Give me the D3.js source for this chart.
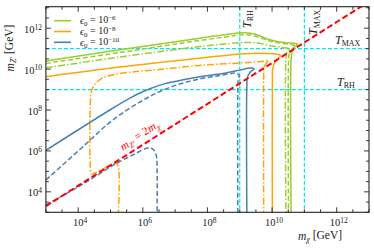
<!DOCTYPE html>
<html><head><meta charset="utf-8">
<script src="https://cdn.jsdelivr.net/npm/d3@7"></script>
<style>
body{margin:0;background:#fff}
text{font-family:"Liberation Serif","DejaVu Serif",serif;fill:#222}
</style>
</head><body>
<svg id="c" width="374" height="249"></svg>
<script>
// ---- data (log10 of mass values, GeV) ----
const xDomainLog = [3, 13];
const yDomainLog = [3, 13.05];
const xLabelExps = [4, 6, 8, 10, 12];
const yLabelExps = [4, 6, 8, 10, 12];
const tempLabels = ["RH", "MAX"];
const tempValuesLog = [9, 11];          // T_RH, T_MAX
const legendExps = ["\u22126", "\u22128", "\u221210"];
const ratioLog = Math.log10(2);         // m_Z' = 2 m_chi

const greenSolid = [[3.00,10.40],[5.29,10.94],[7.76,11.51],[8.69,11.72],[9.06,11.78],[9.46,11.72],[9.86,11.47],[10.23,11.32],[10.60,11.27],[10.79,11.21],[10.69,11.06],[10.62,10.84],[10.59,10.45],[10.59,2.8]];
const greenDashed = [[3.00,10.28],[5.29,10.81],[7.76,11.40],[8.69,11.60],[9.06,11.68],[9.46,11.62],[9.86,11.40],[10.23,11.27],[10.60,11.20],[10.72,11.13],[10.63,10.99],[10.53,10.74],[10.51,10.35],[10.51,2.8]];
const greenDashDot = [[3.00,10.06],[5.29,10.59],[7.76,11.10],[8.69,11.25],[9.06,11.30],[9.55,11.28],[9.98,11.13],[10.32,11.06],[10.54,10.99],[10.46,10.84],[10.43,10.55],[10.43,2.8]];
const orangeSolid = [[3.00,9.63],[5.29,10.10],[7.76,10.53],[9.00,10.74],[9.61,10.78],[10.11,10.74],[10.26,10.67],[10.18,10.50],[10.08,10.30],[10.02,10.01],[10.01,9.57],[10.01,2.8]];
const orangeDashDot = [[5.24,2.8],[5.24,5.26],[5.18,5.39],[4.52,4.92],[4.41,4.87],[4.38,5.07],[4.38,8.49],[4.42,8.98],[4.55,9.32],[4.76,9.57],[5.13,9.74],[5.69,9.86],[6.52,9.98],[7.76,10.18],[9.00,10.30],[9.68,10.37],[9.89,10.40],[9.83,10.30],[9.75,10.10],[9.74,9.71],[9.74,2.8]];
const blueSolid = [[3.00,6.03],[4.98,8.00],[5.60,8.58],[5.91,8.83],[6.22,9.04],[6.68,9.29],[7.30,9.49],[7.91,9.66],[8.53,9.80],[9.00,9.95],[9.31,10.05],[9.44,10.01],[9.33,9.86],[9.24,9.62],[9.22,9.22],[9.22,2.8]];
const blueDashedUpper = [[3.00,4.58],[4.05,6.07],[5.07,7.51],[5.91,8.39],[6.52,8.90],[7.14,9.27],[7.76,9.52],[8.38,9.69],[8.75,9.79],[8.87,9.81],[8.98,9.69],[8.95,9.47],[8.94,9.08],[8.94,2.8]];
const blueDashedLower = [[3.00,3.36],[4.05,4.29],[5.19,5.40],[5.75,5.85],[6.11,6.13],[6.25,6.14],[6.35,6.02],[6.42,5.75],[6.44,5.31],[6.44,2.8]];

// ---- layout ----
const L = 45.9, R = 369, T = 6.7, B = 212.3;
const svg = d3.select("#c");
const x = d3.scaleLog().domain(xDomainLog.map(v => 10 ** v)).range([L, R]);
const y = d3.scaleLog().domain(yDomainLog.map(v => 10 ** v)).range([B, T]);

const COL = {green:"#9acd32", orange:"#ffa500", blue:"#4682b4", cyan:"#00e5ee", red:"#ff0000"};

svg.append("clipPath").attr("id","clip").append("rect")
  .attr("x", L).attr("y", T).attr("width", R - L).attr("height", B - T);
const plot = svg.append("g").attr("clip-path","url(#clip)");

// cyan reference lines
tempValuesLog.forEach(v => {
  plot.append("line").attr("x1", L).attr("x2", R).attr("y1", y(10 ** v)).attr("y2", y(10 ** v))
    .attr("stroke", COL.cyan).attr("stroke-width", 1.2).attr("stroke-dasharray", "4,2");
  plot.append("line").attr("y1", T).attr("y2", B).attr("x1", x(10 ** v)).attr("x2", x(10 ** v))
    .attr("stroke", COL.cyan).attr("stroke-width", 1.2).attr("stroke-dasharray", "4,2");
});

const line = d3.line().x(d => x(10 ** d[0])).y(d => y(10 ** d[1])).curve(d3.curveCatmullRom.alpha(0.5));
const DASH = "5,2.5", DASHDOT = "7,2,1.5,2";
const curves = [
  [greenSolid, COL.green, null], [greenDashed, COL.green, DASH], [greenDashDot, COL.green, DASHDOT],
  [orangeSolid, COL.orange, null], [orangeDashDot, COL.orange, DASHDOT],
  [blueSolid, COL.blue, null], [blueDashedUpper, COL.blue, DASH], [blueDashedLower, COL.blue, DASH]
];
curves.forEach(([data, c, dash]) => {
  plot.append("path").attr("d", line(data)).attr("fill","none").attr("stroke", c)
    .attr("stroke-width", 1.5).attr("stroke-dasharray", dash);
});

// red diagonal
plot.append("path").attr("d", d3.line()([[x(10 ** xDomainLog[0]), y(10 ** (xDomainLog[0] + ratioLog))],
                                         [x(10 ** xDomainLog[1]), y(10 ** (xDomainLog[1] + ratioLog))]]))
  .attr("stroke", COL.red).attr("stroke-width", 2).attr("stroke-dasharray", "6,3").attr("fill","none");

// axes frame & ticks
const halfX = d3.range(xDomainLog[0], xDomainLog[1] + 0.01, 0.5);
const halfY = d3.range(yDomainLog[0], yDomainLog[1] + 0.01, 0.5);
function tickLen(v){ return (Math.abs(v % 2) < 1e-6) ? 5 : 3; }
const axG = svg.append("g").attr("stroke","#222").attr("stroke-width",0.9);
halfX.forEach(v => {
  const px = x(10 ** v), l = tickLen(v);
  axG.append("line").attr("x1",px).attr("x2",px).attr("y1",B).attr("y2",B-l);
  axG.append("line").attr("x1",px).attr("x2",px).attr("y1",T).attr("y2",T+l);
});
halfY.forEach(v => {
  if (10 ** v > y.domain()[1]) return;
  const py = y(10 ** v), l = tickLen(v);
  axG.append("line").attr("y1",py).attr("y2",py).attr("x1",L).attr("x2",L+l);
  axG.append("line").attr("y1",py).attr("y2",py).attr("x1",R).attr("x2",R-l);
});
svg.append("rect").attr("x",L).attr("y",T).attr("width",R-L).attr("height",B-T)
  .attr("fill","none").attr("stroke","#222").attr("stroke-width",1.1);

// tick labels
function pow10(g, e, anchor){
  const t = g.append("text").attr("text-anchor", anchor).style("font-size","10.5px");
  t.append("tspan").text("10");
  t.append("tspan").attr("dy","-0.42em").style("font-size","7.5px").text(e);
  return t;
}
xLabelExps.forEach(e => pow10(svg, e, "middle").attr("x", x(10 ** e) + 2).attr("y", 226));
yLabelExps.forEach(e => pow10(svg, e, "end").attr("x", 42).attr("y", y(10 ** e) + 4.5));

// axis labels
const yl = svg.append("text").attr("transform","translate(14,48) rotate(-90)")
  .attr("text-anchor","middle").style("font-size","11.5px");
yl.append("tspan").style("font-style","italic").text("m");
yl.append("tspan").attr("dy","0.3em").style("font-size","8px").style("font-style","italic").text("Z\u2032");
yl.append("tspan").attr("dy","-0.3em").text(" [GeV]");

const xl = svg.append("text").attr("x", 320).attr("y", 240).attr("text-anchor","middle").style("font-size","11.5px");
xl.append("tspan").style("font-style","italic").text("m");
xl.append("tspan").attr("dy","0.3em").style("font-size","8px").style("font-style","italic").text("\u03c7");
xl.append("tspan").attr("dy","-0.3em").text(" [GeV]");

// temperature labels
function tLabel(g, sub){
  const t = g.append("text").style("font-size","12px");
  t.append("tspan").style("font-style","italic").text("T");
  t.append("tspan").attr("dy","0.3em").style("font-size","8px").text(sub);
  return t;
}
tLabel(svg, tempLabels[0]).attr("x", 337).attr("y", 86);
tLabel(svg, tempLabels[1]).attr("x", 335).attr("y", 44);
tLabel(plot, tempLabels[0]).attr("transform", `translate(${x(10 ** tempValuesLog[0]) + 11},28) rotate(-90)`);
tLabel(plot, tempLabels[1]).attr("transform", `translate(${x(10 ** tempValuesLog[1]) + 13},35) rotate(-90)`);

// red label
const angle = Math.atan2(y(1e4) - y(1e5), x(1e5) - x(1e4)) * 180 / Math.PI;
const rl = svg.append("text").attr("transform", `translate(123,151) rotate(${-angle})`).style("font-size","11.5px");
rl.append("tspan").style("font-style","italic").style("fill",COL.red).text("m");
rl.append("tspan").attr("dy","0.3em").style("font-size","8px").style("font-style","italic").style("fill",COL.red).text("Z\u2032");
rl.append("tspan").attr("dy","-0.3em").style("fill",COL.red).text(" = 2");
rl.append("tspan").style("font-style","italic").style("fill",COL.red).text("m");
rl.append("tspan").attr("dy","0.3em").style("font-size","8px").style("font-style","italic").style("fill",COL.red).text("\u03c7");

// legend
const legCols = [COL.green, COL.orange, COL.blue];
legendExps.forEach((e, i) => {
  const yy = 20.7 + i * 10.8;
  svg.append("line").attr("x1",54).attr("x2",71).attr("y1",yy).attr("y2",yy)
    .attr("stroke", legCols[i]).attr("stroke-width",1.6);
  const t = svg.append("text").attr("x",80).attr("y",yy+3.5).style("font-size","10px");
  t.append("tspan").style("font-style","italic").text("\u03f5");
  t.append("tspan").attr("dy","0.3em").style("font-size","7px").text("0");
  t.append("tspan").attr("dy","-0.3em").text(" = 10");
  t.append("tspan").attr("dy","-0.42em").style("font-size","7px").text(e);
});
</script>
</body></html>
